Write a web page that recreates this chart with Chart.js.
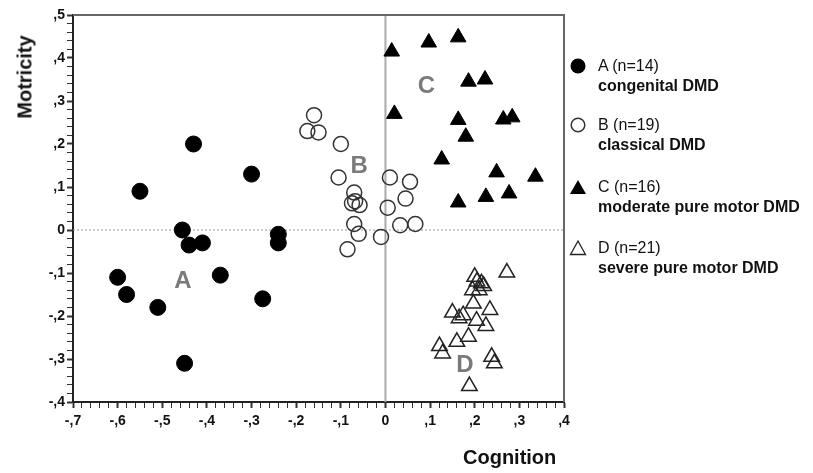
<!DOCTYPE html>
<html>
<head>
<meta charset="utf-8">
<script src="https://cdn.jsdelivr.net/npm/chart.js@4.4.1/dist/chart.umd.min.js"></script>
<style>
  body { margin: 0; background: #fff; font-family: "Liberation Sans", Arial, sans-serif; }
  #wrap { position: relative; width: 813px; height: 473px; }
  .title { position: absolute; font-weight: bold; font-size: 20px; color: #111; white-space: nowrap; }
  .leg { position: absolute; left: 598px; font-size: 16px; color: #111; white-space: nowrap; line-height: 20px; }
  .leg b { font-weight: bold; }
  .mk { position: absolute; }
</style>
</head>
<body>
<div id="wrap">
  <canvas id="plot"></canvas>
  <div class="title" style="left:463px;top:446px;">Cognition</div>
  <div class="title" style="left:25px;top:77px;transform:translate(-50%,-50%) rotate(-90deg);">Motricity</div>

  <svg class="mk" style="left:569px;top:57px;" width="18" height="18"><circle cx="9" cy="9" r="7.5" fill="#000"/></svg>
  <div class="leg" style="top:56px;">A (n=14)<br><b>congenital DMD</b></div>
  <svg class="mk" style="left:569px;top:116px;" width="18" height="18"><circle cx="9" cy="9" r="6.8" fill="none" stroke="#333" stroke-width="1.5"/></svg>
  <div class="leg" style="top:115px;">B (n=19)<br><b>classical DMD</b></div>
  <svg class="mk" style="left:569px;top:178px;" width="18" height="18"><polygon points="9,2 17,16 1,16" fill="#000"/></svg>
  <div class="leg" style="top:177px;">C (n=16)<br><b>moderate pure motor DMD</b></div>
  <svg class="mk" style="left:569px;top:239px;" width="18" height="18"><polygon points="9,2 16.5,15.5 1.5,15.5" fill="none" stroke="#222" stroke-width="1.3"/></svg>
  <div class="leg" style="top:238px;">D (n=21)<br><b>severe pure motor DMD</b></div>
</div>
<script>
// group A - congenital DMD
const cognitionA = [-0.60, -0.58, -0.51, -0.55, -0.455, -0.44, -0.41, -0.43, -0.37, -0.30, -0.24, -0.24, -0.275, -0.45];
const motricityA = [-0.11, -0.15, -0.18, 0.09, 0.0, -0.035, -0.03, 0.20, -0.105, 0.13, -0.01, -0.03, -0.16, -0.31];
// group B - classical DMD
const cognitionB = [-0.16, -0.175, -0.15, -0.10, -0.105, -0.07, -0.068, -0.058, -0.075, -0.07, -0.06, -0.085, -0.01, 0.005, 0.01, 0.055, 0.045, 0.033, 0.067];
const motricityB = [0.267, 0.23, 0.227, 0.20, 0.122, 0.087, 0.067, 0.058, 0.062, 0.014, -0.009, -0.045, -0.016, 0.052, 0.122, 0.112, 0.073, 0.011, 0.014];
// group C - moderate pure motor DMD
const cognitionC = [0.014, 0.097, 0.163, 0.186, 0.223, 0.02, 0.163, 0.18, 0.264, 0.284, 0.126, 0.249, 0.336, 0.163, 0.225, 0.277];
const motricityC = [0.415, 0.436, 0.448, 0.345, 0.35, 0.27, 0.256, 0.217, 0.257, 0.262, 0.164, 0.134, 0.124, 0.064, 0.077, 0.085];
// group D - severe pure motor DMD
const cognitionD = [0.272, 0.20, 0.205, 0.215, 0.22, 0.21, 0.195, 0.197, 0.15, 0.174, 0.165, 0.234, 0.204, 0.225, 0.186, 0.16, 0.121, 0.128, 0.238, 0.244, 0.188];
const motricityD = [-0.099, -0.109, -0.12, -0.124, -0.13, -0.14, -0.14, -0.171, -0.192, -0.198, -0.205, -0.186, -0.211, -0.223, -0.248, -0.26, -0.27, -0.287, -0.295, -0.31, -0.363];

// cluster letters and where they sit
const groupLetters = ['A', 'B', 'C', 'D'];
const letterX = [-0.454, -0.059, 0.092, 0.178];
const letterY = [-0.12, 0.147, 0.335, -0.314];

const xMin = -0.7, xMax = 0.4, yMin = -0.4, yMax = 0.5;

function pts(xs, ys) {
  return xs.map((x, i) => ({ x: x, y: ys[i] }));
}

function isMajor(v) {
  return Math.abs(v * 10 - Math.round(v * 10)) < 1e-6;
}

function tickText(v) {
  if (!isMajor(v)) return '';
  if (Math.abs(v) < 1e-9) return '0';
  return v.toFixed(1).replace('0.', ',');
}

// frame, zero lines and cluster letters
const decor = {
  id: 'decor',
  beforeDatasetsDraw(chart) {
    const { ctx, chartArea: a, scales: { x, y } } = chart;
    const x0 = x.getPixelForValue(0);
    const y0 = y.getPixelForValue(0);
    ctx.save();
    ctx.strokeStyle = '#999';
    ctx.lineWidth = 1;
    ctx.setLineDash([2, 2]);
    ctx.beginPath();
    ctx.moveTo(a.left, y0);
    ctx.lineTo(a.right, y0);
    ctx.stroke();
    ctx.setLineDash([]);
    ctx.strokeStyle = '#aaa';
    ctx.lineWidth = 2;
    ctx.beginPath();
    ctx.moveTo(x0, a.top);
    ctx.lineTo(x0, a.bottom);
    ctx.stroke();

    ctx.fillStyle = '#7a7a7a';
    ctx.font = 'bold 24px "Liberation Sans", Arial, sans-serif';
    ctx.textAlign = 'center';
    ctx.textBaseline = 'middle';
    groupLetters.forEach((t, i) => {
      ctx.fillText(t, x.getPixelForValue(letterX[i]), y.getPixelForValue(letterY[i]));
    });
    ctx.restore();
  },
  afterDraw(chart) {
    const { ctx, chartArea: a } = chart;
    ctx.save();
    ctx.strokeStyle = '#666';
    ctx.lineWidth = 2;
    ctx.beginPath();
    ctx.moveTo(a.left, a.top);
    ctx.lineTo(a.right, a.top);
    ctx.lineTo(a.right, a.bottom);
    ctx.stroke();
    ctx.restore();
  }
};

const tickFont = { family: '"Liberation Sans", Arial, sans-serif', size: 14, weight: 'bold' };

new Chart(document.getElementById('plot'), {
  type: 'scatter',
  data: {
    datasets: [
      {
        label: 'A (n=14) congenital DMD',
        data: pts(cognitionA, motricityA),
        pointStyle: 'circle',
        pointRadius: 8,
        backgroundColor: '#000',
        borderColor: '#000',
        borderWidth: 1
      },
      {
        label: 'B (n=19) classical DMD',
        data: pts(cognitionB, motricityB),
        pointStyle: 'circle',
        pointRadius: 7.5,
        backgroundColor: 'rgba(0,0,0,0)',
        borderColor: '#333',
        borderWidth: 1.5
      },
      {
        label: 'C (n=16) moderate pure motor DMD',
        data: pts(cognitionC, motricityC),
        pointStyle: 'triangle',
        pointRadius: 9,
        backgroundColor: '#000',
        borderColor: '#000',
        borderWidth: 1
      },
      {
        label: 'D (n=21) severe pure motor DMD',
        data: pts(cognitionD, motricityD),
        pointStyle: 'triangle',
        pointRadius: 9,
        backgroundColor: 'rgba(0,0,0,0)',
        borderColor: '#222',
        borderWidth: 1.5
      }
    ]
  },
  options: {
    responsive: true,
    maintainAspectRatio: false,
    animation: false,
    events: [],
    layout: { padding: { top: 15, right: 249, left: 0, bottom: 0 } },
    plugins: { legend: { display: false }, tooltip: { enabled: false } },
    scales: {
      x: {
        type: 'linear',
        min: xMin,
        max: xMax,
        afterFit: s => { s.height = 71; },
        border: { display: true, color: '#222', width: 2 },
        grid: {
          drawOnChartArea: false,
          tickLength: 6,
          color: '#333',
          tickWidth: c => isMajor(c.tick.value) ? 2 : 1
        },
        ticks: {
          stepSize: 0.02,
          autoSkip: false,
          maxRotation: 0,
          padding: 5,
          color: '#111',
          font: tickFont,
          callback: v => tickText(v)
        }
      },
      y: {
        type: 'linear',
        min: yMin,
        max: yMax,
        afterFit: s => { s.width = 73; },
        border: { display: true, color: '#222', width: 2 },
        grid: {
          drawOnChartArea: false,
          tickLength: 6,
          color: '#333',
          tickWidth: c => isMajor(c.tick.value) ? 2 : 1
        },
        ticks: {
          stepSize: 0.02,
          autoSkip: false,
          padding: 2,
          color: '#111',
          font: tickFont,
          callback: v => tickText(v)
        }
      }
    }
  },
  plugins: [decor]
});
</script>
</body>
</html>
